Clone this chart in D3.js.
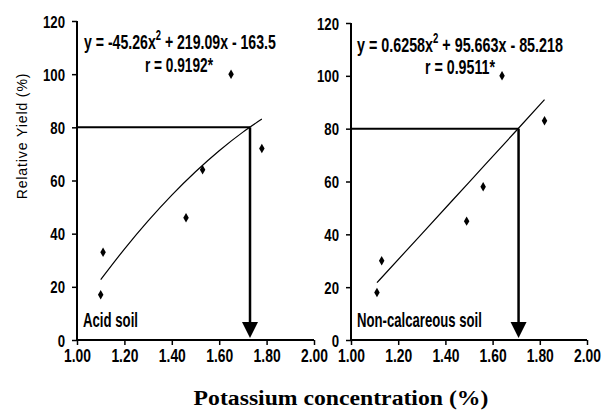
<!DOCTYPE html>
<html><head><meta charset="utf-8">
<script src="https://cdn.jsdelivr.net/npm/d3@7"></script>
<style>
body{margin:0;background:#fff;}
svg{display:block;}
.narrow{font-family:"Liberation Sans",Arial,sans-serif;font-weight:bold;fill:#000;}
</style></head>
<body><svg id="c" width="614" height="417"></svg>
<script>
// ---- data ----
const xTicks = [1.00, 1.20, 1.40, 1.60, 1.80, 2.00];
const yTicks = [0, 20, 40, 60, 80, 100, 120];
const acidX = [1.10, 1.11, 1.46, 1.53, 1.65, 1.78];
const acidY = [17, 33, 46, 64, 100, 72];
const acidTrendX = [1.10, 1.20, 1.30, 1.40, 1.50, 1.60, 1.70, 1.78];
const acidTrendY = [22.7, 34.2, 44.8, 54.5, 63.3, 71.2, 78.2, 83.1];
const acidCritical = 1.73;
const nonX = [1.11, 1.13, 1.49, 1.56, 1.64, 1.82];
const nonY = [18, 30, 45, 58, 100, 83];
const nonTrendX = [1.11, 1.30, 1.50, 1.70, 1.82];
const nonTrendY = [21.7, 40.2, 59.7, 79.2, 91.0];
const nonCritical = 1.71;
const targetYield = 80;
const panelNames = ["Acid soil", "Non-calcareous soil"];
const eqLeft = ["y = -45.26x", "2", " + 219.09x - 163.5"];
const eqRight = ["y = 0.6258x", "2", " + 95.663x - 85.218"];
const rLeft = "r = 0.9192*";
const rRight = "r = 0.9511*";
const yTitle = "Relative Yield (%)";
const xTitle = "Potassium concentration (%)";

const svg = d3.select("#c");

// squeeze a text horizontally to a given width around its anchor
function fit(t, w, sFixed){
  const n = t.node();
  const s = sFixed || (w / n.getComputedTextLength());
  const x = +t.attr("x") || 0;
  t.attr("transform", `translate(${x*(1-s)},0) scale(${s},1)`);
  return s;
}

function panel(cfg){
  const x = d3.scaleLinear().domain([1,2]).range([cfg.x0, cfg.x1]);
  const y = d3.scaleLinear().domain([0,120]).range([cfg.y0, cfg.y1]);
  const g = svg.append("g");
  const xa = g.append("g").attr("transform",`translate(0,${cfg.y0})`)
    .call(d3.axisBottom(x).tickValues(xTicks).tickFormat(d3.format(".2f")).tickSize(5).tickPadding(17));
  const ya = g.append("g").attr("transform",`translate(${cfg.x0},0)`)
    .call(d3.axisLeft(y).tickValues(yTicks).tickSize(5).tickPadding(7));
  [xa,ya].forEach(a=>{
    a.select(".domain").attr("stroke","#000").attr("stroke-width",2);
    a.selectAll(".tick line").attr("stroke","#000").attr("stroke-width",1.5);
    a.selectAll("text").attr("class","narrow").attr("fill","#000");
  });
  ya.select(".domain").attr("d",`M0,${cfg.y1}V${cfg.y0}`);
  xa.select(".domain").attr("d",`M${cfg.x0},0H${cfg.x1}`);
  xa.selectAll("text").attr("dy",0).attr("font-size",19);
  ya.selectAll("text").attr("dy","0.36em").attr("font-size",17);
  // condense tick labels
  let sx = null;
  xa.selectAll("text").each(function(d){ const t=d3.select(this); if(d===1){ sx = fit(t,27); } });
  xa.selectAll("text").each(function(){ fit(d3.select(this),0,sx); });
  let sy = null;
  ya.selectAll("text").each(function(d){ const t=d3.select(this); if(d===120){ sy = fit(t,22); } });
  ya.selectAll("text").each(function(){ fit(d3.select(this),0,sy); });
  // trend
  const pts = cfg.tx.map((v,i)=>[v,cfg.ty[i]]);
  g.append("path").datum(pts).attr("fill","none").attr("stroke","#000").attr("stroke-width",1.2)
    .attr("d", d3.line().x(d=>x(d[0])).y(d=>y(d[1])).curve(d3.curveMonotoneX));
  // reference lines
  g.append("line").attr("x1",x(1)).attr("x2",x(cfg.crit)).attr("y1",y(targetYield)).attr("y2",y(targetYield))
    .attr("stroke","#000").attr("stroke-width",2);
  g.append("line").attr("x1",x(cfg.crit)).attr("x2",x(cfg.crit)).attr("y1",y(targetYield)).attr("y2",y(0)-14)
    .attr("stroke","#000").attr("stroke-width",2.5);
  const tipY = y(0)-2, ax = x(cfg.crit);
  g.append("path").attr("d",`M${ax-8},${tipY-16}L${ax+8},${tipY-16}L${ax},${tipY}Z`).attr("fill","#000");
  // points
  g.selectAll(".pt").data(cfg.px.map((v,i)=>[v,cfg.py[i]])).enter().append("path")
    .attr("d",d3.symbol(d3.symbolDiamond, 26))
    .attr("transform",d=>`translate(${x(d[0])},${y(d[1])})`).attr("fill","#000");
  // equation
  const eq = g.append("text").attr("class","narrow").attr("x",cfg.eqx).attr("y",cfg.eqy).attr("font-size",21);
  eq.append("tspan").text(cfg.eq[0]);
  eq.append("tspan").text(cfg.eq[1]).attr("font-size",14).attr("dy",-9);
  eq.append("tspan").text(cfg.eq[2]).attr("dy",9);
  fit(eq, cfg.eqw);
  const r = g.append("text").attr("class","narrow").attr("x",cfg.rx).attr("y",cfg.ry).attr("font-size",21).text(cfg.r);
  fit(r, cfg.rw);
  const nm = g.append("text").attr("class","narrow").attr("x",cfg.x0+6).attr("y",cfg.y0-13).attr("font-size",20).text(cfg.name);
  fit(nm, cfg.nw);
}

panel({x0:77,x1:314,y0:340,y1:21,px:acidX,py:acidY,tx:acidTrendX,ty:acidTrendY,crit:acidCritical,
  eq:eqLeft,eqx:84,eqy:49,eqw:192,r:rLeft,rx:145,ry:72,rw:68,name:panelNames[0],nw:55});
panel({x0:351,x1:587,y0:340,y1:23,px:nonX,py:nonY,tx:nonTrendX,ty:nonTrendY,crit:nonCritical,
  eq:eqRight,eqx:357,eqy:52,eqw:206,r:rRight,rx:425,ry:74,rw:70,name:panelNames[1],nw:125});

svg.append("text").attr("transform","translate(27,136) rotate(-90)").attr("text-anchor","middle")
  .attr("font-family","Liberation Sans, Arial, sans-serif").attr("font-size",14).attr("letter-spacing",0.9).text(yTitle);
const xt = svg.append("text").attr("x",341).attr("y",405).attr("text-anchor","middle")
  .attr("font-family","Liberation Serif, Times New Roman, serif").attr("font-weight","bold").attr("font-size",21).text(xTitle);
fit(xt, 295);
</script></body></html>
